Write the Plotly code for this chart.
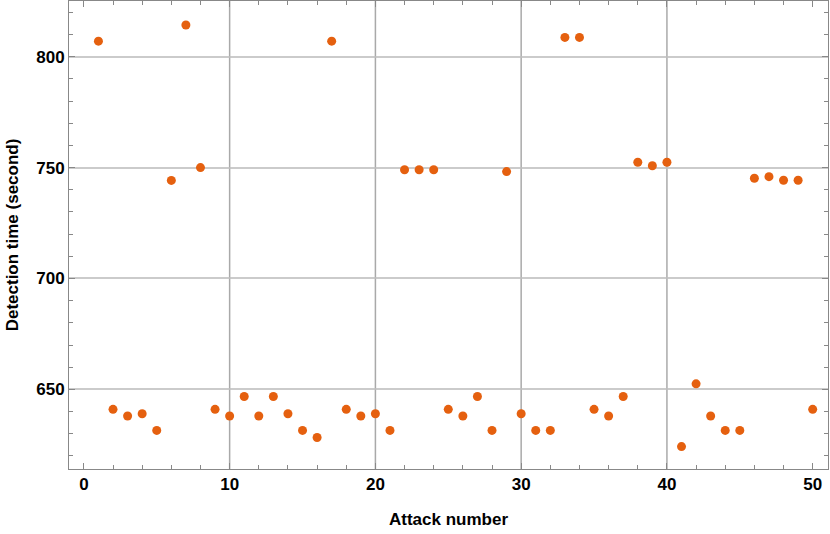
import plotly.graph_objects as go

attack = list(range(1, 51))
detection_time = [
    807, 641, 638, 639, 631.5, 744.2, 814.3, 750, 641, 638,
    646.8, 638, 646.8, 639, 631.5, 628.3, 807, 641, 638, 639,
    631.5, 749, 749, 749, 641, 638, 646.8, 631.5, 748.2, 639,
    631.5, 631.5, 808.7, 808.7, 641, 638, 646.8, 752.4, 750.8, 752.4,
    624.2, 652.5, 638, 631.5, 631.5, 745.2, 745.9, 744.3, 744.3, 641,
]
x_ticks = [0, 10, 20, 30, 40, 50]
y_ticks = [650, 700, 750, 800]
x_grid = [10, 20, 30, 40]

fig = go.Figure()
fig.add_trace(go.Scatter(
    x=attack, y=detection_time, mode="markers",
    marker=dict(color="#E5600F", size=9, line=dict(width=0)),
    showlegend=False, cliponaxis=False,
))

for xv in x_grid:
    fig.add_shape(type="line", xref="x", yref="paper", x0=xv, x1=xv, y0=0, y1=1,
                  line=dict(color="rgba(140,140,140,0.75)", width=1.5), layer="below")

font = dict(family="Liberation Sans, Arial, sans-serif", size=17, color="black")

fig.update_layout(
    width=830, height=534,
    margin=dict(l=69, r=2, t=1, b=65),
    paper_bgcolor="white", plot_bgcolor="white",
    font=font,
    xaxis=dict(
        range=[-1.02, 51.05], tickvals=x_ticks, ticktext=[f"<b>{v}</b>" for v in x_ticks],
        showgrid=False, zeroline=False, automargin=False,
        showline=True, linecolor="#888888", linewidth=1, mirror="ticks",
        ticks="inside", ticklen=6, tickcolor="#888888",
        minor=dict(dtick=2, tick0=0, ticks="inside", ticklen=4, tickcolor="#888888", showgrid=False),
        title=dict(text="<b>Attack number</b>", standoff=19, font=font),
    ),
    yaxis=dict(
        range=[614.1, 825.1], tickvals=y_ticks, ticktext=[f"<b>{v}</b>" for v in y_ticks],
        showgrid=True, gridcolor="rgba(190,190,190,0.8)", gridwidth=1.5, zeroline=False,
        automargin=False,
        showline=True, linecolor="#888888", linewidth=1, mirror="ticks",
        ticks="inside", ticklen=6, tickcolor="#888888",
        minor=dict(dtick=10, tick0=0, ticks="inside", ticklen=4, tickcolor="#888888", showgrid=False),
        title=dict(text="<b>Detection time (second)</b>", standoff=13, font=font),
    ),
)

fig.write_html("out.html", config={"displayModeBar": False},
               post_script="document.body.style.margin='0';")
